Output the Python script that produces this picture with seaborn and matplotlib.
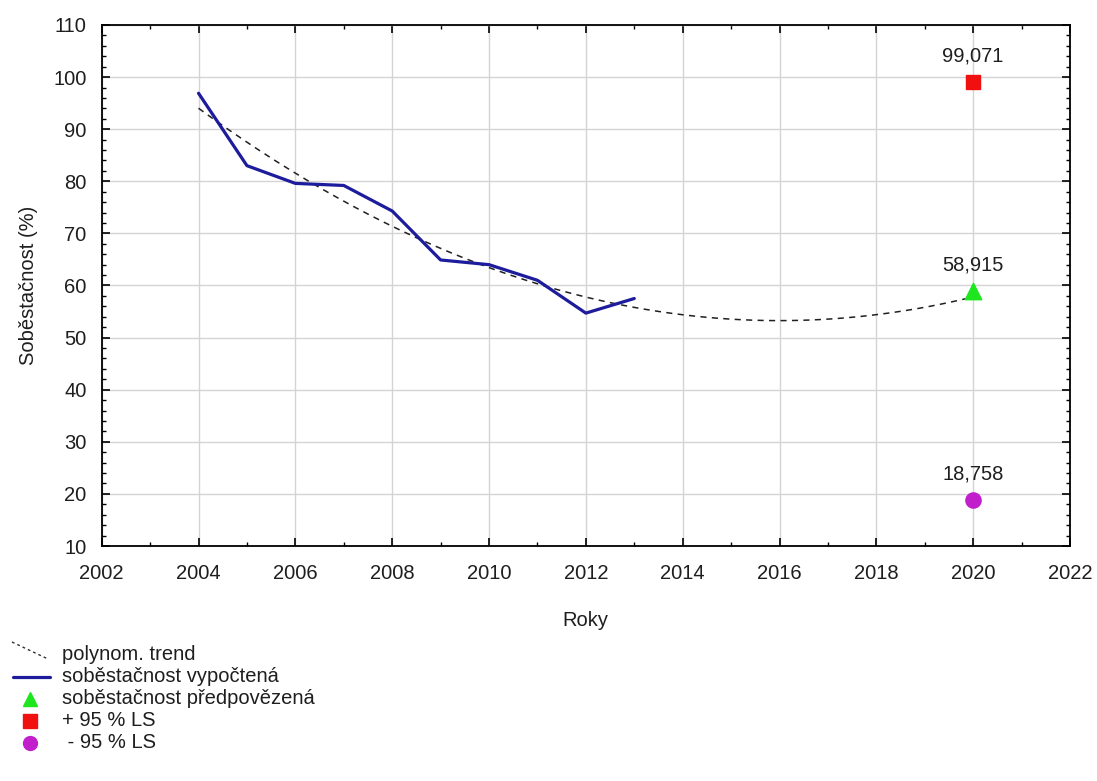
import numpy as np
import pandas as pd
import matplotlib
matplotlib.use("Agg")
import matplotlib.pyplot as plt
import seaborn as sns
from matplotlib.lines import Line2D
from matplotlib.ticker import MultipleLocator

# Computed self-sufficiency by year
years = [2004, 2005, 2006, 2007, 2008, 2009, 2010, 2011, 2012, 2013]
sobestacnost = [96.9, 83.0, 79.6, 79.2, 74.3, 64.9, 64.0, 61.0, 54.7, 57.5]

# Forecast for 2020 with 95 % limits
forecast_year = 2020
forecast_value = 58.915
upper_ls = 99.071
lower_ls = 18.758

legend_labels = ["polynom. trend", "soběstačnost vypočtená", "soběstačnost předpovězená",
                 "+ 95 % LS", " - 95 % LS"]

# Quadratic trend fitted to the computed series, extended to the forecast year
coef = np.polyfit(years, sobestacnost, 2)
trend_x = np.linspace(2004, 2020, 200)
trend_y = np.polyval(coef, trend_x)

sns.set_theme(style="white")
plt.rcParams["font.family"] = ["Liberation Sans", "DejaVu Sans"]

W, H = 1097, 781
fig = plt.figure(figsize=(W / 100, H / 100), dpi=100)
ax = fig.add_axes([101.7 / W, 1 - 546 / H, (1070 - 101.7) / W, (546 - 25) / H])

BLUE = "#1c1c9c"
GREEN = "#1ee61e"
RED = "#f01010"
MAGENTA = "#c21fcc"
TEXT = "#1e1e1e"
FS = 14.5

df = pd.DataFrame({"rok": years, "hodnota": sobestacnost})
trend_df = pd.DataFrame({"rok": trend_x, "hodnota": trend_y})

sns.lineplot(data=trend_df, x="rok", y="hodnota", ax=ax, color="#202020",
             linestyle=(0, (4, 3.5)), linewidth=1.1, zorder=3)
sns.lineplot(data=df, x="rok", y="hodnota", ax=ax, color=BLUE,
             linewidth=2.3, zorder=4)

ax.scatter([forecast_year], [forecast_value], marker="^", s=140, color=GREEN, zorder=5)
ax.scatter([forecast_year], [upper_ls], marker="s", s=115, color=RED, zorder=5)
ax.scatter([forecast_year], [lower_ls], marker="o", s=120, color=MAGENTA, zorder=5)

for val in (forecast_value, upper_ls, lower_ls):
    ax.annotate(f"{val:.3f}".replace(".", ","), (forecast_year, val),
                xytext=(0, 12), textcoords="offset points",
                ha="center", va="bottom", fontsize=FS, color=TEXT)

ax.set_xlim(2002, 2022)
ax.set_ylim(10, 110)
ax.xaxis.set_major_locator(MultipleLocator(2))
ax.xaxis.set_minor_locator(MultipleLocator(1))
ax.yaxis.set_major_locator(MultipleLocator(10))
ax.yaxis.set_minor_locator(MultipleLocator(2))
ax.grid(True, which="major", color="#d4d4d4", linewidth=1.0)
ax.set_axisbelow(True)
ax.tick_params(which="both", direction="in", top=True, right=True,
               bottom=True, left=True, colors="#000000", labelcolor=TEXT)
ax.tick_params(which="major", length=6, width=1.2, labelsize=FS)
ax.tick_params(which="minor", length=3, width=1.0)
ax.tick_params(axis="x", which="major", pad=13)
ax.tick_params(axis="y", which="major", pad=11)
for s in ax.spines.values():
    s.set_color("#000000")
    s.set_linewidth(1.3)

ax.set_xlabel("Roky", fontsize=FS, color=TEXT, labelpad=20)
ax.set_ylabel("Soběstačnost (%)", fontsize=FS, color=TEXT, labelpad=11)

# Legend below the plot, drawn row by row in figure pixel coordinates
def fx(px):
    return px / W


def fy(py):
    return 1 - py / H


rows_y = [655, 677, 699, 721, 743]
fig.add_artist(Line2D([fx(12), fx(48)], [fy(642), fy(659)], color="#303030",
                      linestyle=(0, (2, 2.2)), linewidth=1.0))
fig.add_artist(Line2D([fx(13), fx(50)], [fy(rows_y[1]), fy(rows_y[1])],
                      color=BLUE, linewidth=2.3))
fig.add_artist(Line2D([fx(30)], [fy(rows_y[2])], marker="^", markersize=10.5,
                      color=GREEN, linestyle="none"))
fig.add_artist(Line2D([fx(30)], [fy(rows_y[3])], marker="s", markersize=9.5,
                      color=RED, linestyle="none"))
fig.add_artist(Line2D([fx(30)], [fy(rows_y[4])], marker="o", markersize=10,
                      color=MAGENTA, linestyle="none"))
for label, y in zip(legend_labels, rows_y):
    fig.text(fx(62), fy(y), label, fontsize=FS, color=TEXT, ha="left", va="center")

fig.savefig("out.png", dpi=100)
